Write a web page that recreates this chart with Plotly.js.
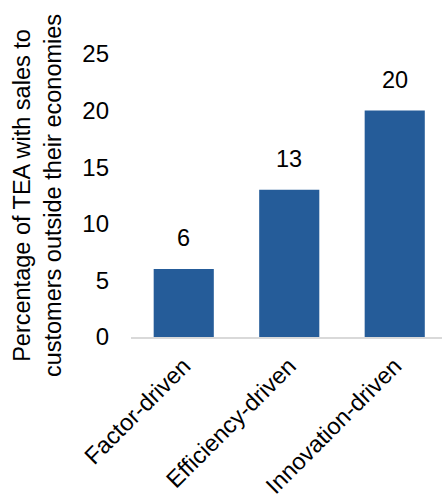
<!DOCTYPE html>
<html>
<head>
<meta charset="utf-8">
<script src="https://cdn.plot.ly/plotly-3.0.1.min.js"></script>
<style>html,body{margin:0;padding:0;background:#fff;}#chart{width:442px;height:495px;}</style>
</head>
<body>
<div id="chart"></div>
<script>
const categories = ["Factor-driven", "Efficiency-driven", "Innovation-driven"];
const values = [6, 13, 20];
const valueLabels = ["6", "13", "20"];
const yTicks = [0, 5, 10, 15, 20, 25];

const barColor = "#255C99";
const font = "Liberation Sans, Arial, sans-serif";

const data = [{
  type: "bar",
  x: categories,
  y: values,
  marker: {color: barColor},
  hoverinfo: "none"
}];

const annotations = categories.map((c, i) => ({
  x: c, y: values[i], text: valueLabels[i],
  showarrow: false, yanchor: "bottom", yshift: 16,
  font: {family: font, size: 23.5, color: "#000"}
}));

const layout = {
  width: 442, height: 495,
  margin: {l: 131, r: 0, t: 54, b: 158},
  paper_bgcolor: "#fff", plot_bgcolor: "#fff",
  bargap: 0.43,
  showlegend: false,
  font: {family: font, color: "#000"},
  xaxis: {
    range: [-0.5, 2.448],
    tickangle: -45,
    tickfont: {family: font, size: 23.5, color: "#000"},
    showline: true, linecolor: "#D9D9D9", linewidth: 2,
    ticks: "", showgrid: false, zeroline: false,
    ticklabelstandoff: 4
  },
  yaxis: {
    range: [0, 25],
    tickvals: yTicks,
    ticktext: yTicks.map(String),
    tickfont: {family: font, size: 24, color: "#000"},
    showgrid: false, zeroline: false, showline: false,
    ticks: "", ticklen: 0,
    ticklabelstandoff: 21,
    title: {text: "Percentage of TEA with sales to<br>customers outside their economies",
            font: {family: font, size: 23.5, color: "#000"}, standoff: 14}
  },
  annotations: annotations
};

Plotly.newPlot("chart", data, layout, {staticPlot: true, displayModeBar: false});
</script>
</body>
</html>
